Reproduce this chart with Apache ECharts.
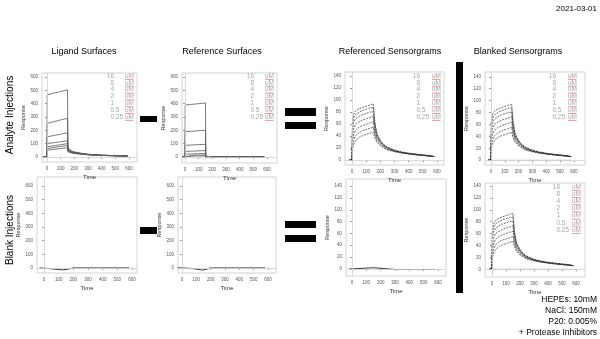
<!DOCTYPE html>
<html><head><meta charset="utf-8">
<script src="https://cdn.jsdelivr.net/npm/echarts@6/dist/echarts.min.js"></script>
<style>html,body{margin:0;padding:0;background:#fff}#c{width:600px;height:339px}</style>
</head><body><div id="c"></div><script>
// ---------- data ----------
const concLabels = ['16','8','4','2','1','0.5','0.25'];
const concUnit = 'uM';
const timeTicks = [0,100,200,300,400,500,600];
const respTicksLarge = [0,100,200,300,400,500,600];
const respTicksSmall = [0,20,40,60,80,100,120,140];
const columnTitles = ['Ligand Surfaces','Reference Surfaces','Referenced Sensorgrams','Blanked Sensorgrams'];
const rowTitles = ['Analyte Injections','Blank Injections'];
const dateText = '2021-03-01';
const bufferLines = ['HEPEs: 10mM','NaCl: 150mM','P20: 0.005%','+ Protease Inhibitors'];

// Ligand surfaces, analyte injections
const tLig = [-30, 0, 1, 50, 100, 150, 153, 165, 180, 200, 250, 300, 400, 500, 590];
const lig16  = [0,0,466,479,491,504,70,55,45,38,28,20,13,10,8];
const lig8   = [0,0,252,265,278,290,62,50,42,35,26,19,13,10,8];
const lig4   = [0,0,151,161,171,181,55,46,39,33,25,18,12,9,7];
const lig2   = [0,0,100,107,114,121,50,42,36,31,24,18,12,9,7];
const lig1   = [0,0,76,84,92,100,46,39,34,29,23,17,12,9,7];
const lig05  = [0,0,63,71,79,86,42,36,32,28,22,17,11,9,7];
const lig025 = [0,0,50,57,64,70,38,33,30,26,21,16,11,9,7];

// Reference surfaces, analyte injections
const tRef = [-20, 0, 1, 50, 100, 150, 152, 160, 175, 200, 300, 400, 500, 580];
const ref16  = [0,0,390,395,400,405,-5,-9,-3,0,0,0,0,0];
const ref8   = [0,0,190,193,197,200,-5,-9,-3,0,0,0,0,0];
const ref4   = [0,0,88,90,93,95,-4,-8,-3,0,0,0,0,0];
const ref2   = [0,0,42,44,46,48,-4,-8,-3,0,0,0,0,0];
const ref1   = [0,0,22,23,25,26,-3,-7,-2,0,0,0,0,0];
const ref05  = [0,0,12,13,14,15,-3,-6,-2,0,0,0,0,0];
const ref025 = [0,0,6,7,8,9,-2,-5,-2,0,0,0,0,0];

// Referenced / blanked sensorgrams
const tSens = [-20,-2,0,3,10,25,50,75,100,125,150,153,160,175,200,225,250,300,350,400,450,500,550,580];
const sens16  = [0,0,10,65,76,82,86,88,90,92,94,85,65,45,33,26,22,17,14,12,10,9,8,6];
const sens8   = [0,0,8,58,70,76,80,83,85,87,88,80,62,43,32,25,21,16,13,11,10,9,7,6];
const sens4   = [0,0,7,50,62,69,73,76,78,80,81,74,58,41,31,25,21,16,13,11,10,8,7,6];
const sens2   = [0,0,6,40,52,60,64,67,69,71,73,67,53,39,30,24,20,16,13,11,10,8,7,6];
const sens1   = [0,0,5,32,42,50,55,58,60,62,64,59,48,36,28,23,19,15,13,11,9,8,7,6];
const sens05  = [0,0,4,24,33,41,46,49,51,53,55,51,43,33,26,22,18,15,12,11,9,8,7,6];
const sens025 = [0,0,3,18,26,33,38,41,43,45,47,44,38,30,24,20,17,14,12,10,9,8,7,6];

// Blank injections
const tBlank = [-30, 0, 50, 100, 130, 150, 160, 200, 300, 400, 500, 560, 570, 580];
const blankLig = [0,-2,-6,-12,-14,-12,-4,0,0,0,0,0,6,0];
const blankRef = [0,0,-3,-8,-14,-15,-3,0,0,0,0,0,0,0];
const tBlankSens = [-20, 0, 1, 150, 152, 300, 580];
const blankSens = [0,0,3,2,-1,-1,-1];
const tZero = [-20, 580];
const zeroLine = [0, 0];

// ---------- build ----------
const FONT = 'Liberation Sans, Arial, sans-serif';
const zip = (t, v) => t.map((x, i) => [x, v[i]]);

const panels = [
  {grid:{left:42,top:73,width:95,height:89}, x:[-37,659], y:[-38,630], yt:respTicksLarge, gapY:16,
   curves:[[tLig,lig16],[tLig,lig8],[tLig,lig4],[tLig,lig2],[tLig,lig1],[tLig,lig05],[tLig,lig025]], style:'lig'},
  {grid:{left:182,top:73,width:95,height:90}, x:[-22,673], y:[-45,630], yt:respTicksLarge, gapY:16,
   curves:[[tRef,ref16],[tRef,ref8],[tRef,ref4],[tRef,ref2],[tRef,ref1],[tRef,ref05],[tRef,ref025]], style:'lig'},
  {grid:{left:345,top:72,width:99,height:93}, x:[-50,650], y:[-8,147], yt:respTicksSmall, gapY:14,
   curves:[[tSens,sens16],[tSens,sens8],[tSens,sens4],[tSens,sens2],[tSens,sens1],[tSens,sens05],[tSens,sens025]], style:'sens'},
  {grid:{left:485,top:72,width:100,height:93}, x:[-43,680], y:[-8,148], yt:respTicksSmall, gapY:14,
   curves:[[tZero,zeroLine],[tSens,sens16],[tSens,sens8],[tSens,sens4],[tSens,sens2],[tSens,sens1],[tSens,sens05],[tSens,sens025]], style:'sens'},
  {grid:{left:37,top:177,width:100,height:96}, x:[-48,634], y:[-37,666], yt:respTicksLarge, gapY:14,
   curves:[[tBlank,blankLig]], style:'blank'},
  {grid:{left:178,top:177,width:98,height:96}, x:[-28,656], y:[-37,666], yt:respTicksLarge, gapY:14,
   curves:[[tBlank,blankRef]], style:'blank'},
  {grid:{left:346,top:179,width:100,height:97}, x:[-42,656], y:[-12,152], yt:respTicksSmall, gapY:14,
   curves:[[tBlankSens,blankSens]], style:'blank'},
  {grid:{left:485,top:183,width:100,height:94}, x:[-50,664], y:[-13,145], yt:respTicksSmall, gapY:14,
   curves:[[tZero,zeroLine],[tSens,sens16],[tSens,sens8],[tSens,sens4],[tSens,sens2],[tSens,sens1],[tSens,sens05],[tSens,sens025]], style:'sens'}
];

const grids = [], xAxes = [], yAxes = [], series = [];
panels.forEach((p, i) => {
  grids.push(Object.assign({show:true, borderColor:'#c8c8c8', borderWidth:0.8, backgroundColor:'#fff'}, p.grid));
  const lbl = {fontSize:4.5, color:'#555', fontFamily:FONT};
  xAxes.push({gridIndex:i, type:'value', min:p.x[0], max:p.x[1],
    name:'Time', nameLocation:'middle', nameGap:12,
    nameTextStyle:{fontSize:6, color:'#333', fontFamily:FONT},
    axisLine:{show:false}, splitLine:{show:false},
    axisTick:{show:true, customValues:timeTicks, length:2, lineStyle:{color:'#555', width:0.6}},
    axisLabel:Object.assign({customValues:timeTicks, margin:4}, lbl)});
  yAxes.push({gridIndex:i, type:'value', min:p.y[0], max:p.y[1],
    name:'Response', nameLocation:'middle', nameGap:p.gapY, nameRotate:90,
    nameTextStyle:{fontSize:5.5, color:'#333', fontFamily:FONT},
    axisLine:{show:false}, splitLine:{show:false},
    axisTick:{show:true, customValues:p.yt, length:2, lineStyle:{color:'#555', width:0.6}},
    axisLabel:Object.assign({customValues:p.yt, margin:4}, lbl)});
  p.curves.forEach((c, k) => {
    let ls;
    if (p.style === 'lig') ls = {color:'#5a5a5a', width:0.8};
    else if (p.style === 'sens') ls = (c[1] === zeroLine) ? {color:'#bbb', width:1.2} : {color:'#333', width:0.7, type:[2,1]};
    else ls = {color:'#222', width:0.9};
    const s = {type:'line', xAxisIndex:i, yAxisIndex:i, data:zip(c[0], c[1]), showSymbol:false,
      lineStyle:ls, silent:true, animation:false};
    if (k === 0) s.markLine = {silent:true, symbol:'none', label:{show:false}, animation:false,
      lineStyle:{color:'#d0d0d0', type:'solid', width:0.8}, data:[{xAxis:0},{yAxis:0}]};
    series.push(s);
  });
});

// ---------- graphics ----------
const g = [];
const txt = (text, x, y, size, align, valign, extra, fill) => Object.assign({type:'text', x, y, style:{text, fontSize:size, fontFamily:FONT, fill:fill || '#000', align, verticalAlign:valign, textAlign:align, textVerticalAlign:valign}}, extra || {});
g.push(txt(dateText, 597, 9, 8, 'right', 'middle'));
const titleX = [84, 222, 390, 518];
columnTitles.forEach((t, i) => g.push(txt(t, titleX[i], 52, 9, 'center', 'middle')));
const rowY = [115, 230];
rowTitles.forEach((t, i) => g.push(txt(t, 10, rowY[i], 10, 'center', 'middle', {rotation:Math.PI/2})));
const rects = [[140,116,17,6],[140,227,17,7],[285,108,31,8],[285,122,31,7],[285,221,31,7],[285,235,31,7],[456,62,7,231]];
rects.forEach(r => g.push({type:'rect', shape:{x:r[0], y:r[1], width:r[2], height:r[3]}, style:{fill:'#000'}}));
bufferLines.forEach((t, i) => g.push(txt(t, 597, 300 + i * 11, 8.5, 'right', 'middle')));

// legends: [decimal x, uM left x, first row y, step]
const LEG = '#a8a8a8';
const legends = [[114,125,76,6.83],[254,265,76,6.83],[420,432,76,6.83],[556,568,76,6.83],[560,572,187,7.17]];
legends.forEach(L => {
  concLabels.forEach((c, j) => {
    const y = L[2] + j * L[3];
    const parts = c.split('.');
    g.push(txt(parts[0], L[0], y, 6.5, 'right', 'middle', null, LEG));
    if (parts[1]) g.push(txt('.' + parts[1], L[0], y, 6.5, 'left', 'middle', null, LEG));
    g.push(txt(concUnit, L[1], y, 6.5, 'left', 'middle', null, LEG));
    g.push({type:'line', shape:{x1:L[1], y1:y+3.4, x2:L[1]+8.5, y2:y+3.4}, style:{stroke:'#e25050', lineWidth:0.6}});
  });
});

const chart = echarts.init(document.getElementById('c'), null, {renderer:'canvas'});
chart.setOption({
  animation:false, backgroundColor:'#fff',
  grid:grids, xAxis:xAxes, yAxis:yAxes, series:series, graphic:g
});
</script></body></html>
